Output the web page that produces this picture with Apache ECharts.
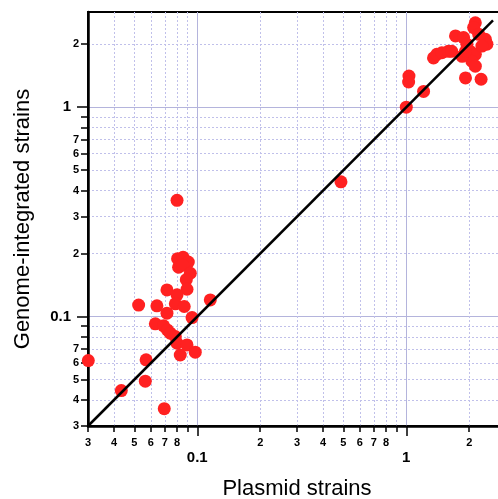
<!DOCTYPE html>
<html>
<head>
<meta charset="utf-8">
<script src="https://cdn.jsdelivr.net/npm/echarts@6/dist/echarts.min.js"></script>
<style>
html,body{margin:0;padding:0;background:#fff;}
#chart{width:498px;height:499px;}
</style>
</head>
<body>
<div id="chart"></div>
<script>
// plasmid (x) vs genome-integrated (y)
var plasmidVals = [0.080, 0.0805, 0.0855, 0.0906, 0.0814, 0.085, 0.0926, 0.0886, 0.0893, 0.0716,
	0.080, 0.0785, 0.0641, 0.0524, 0.0866, 0.0716, 0.0944, 0.1154, 0.0630, 0.0690,
	0.0719, 0.0743, 0.0785, 0.080, 0.0893, 0.0829, 0.0978, 0.0301, 0.0569, 0.0564,
	0.0433, 0.0695,
	0.487,
	1.0, 1.21, 1.03, 1.026, 1.35, 1.40, 1.48, 1.59, 1.65, 1.72,
	1.88, 1.92, 2.28, 2.14, 2.10, 2.22, 2.39, 2.43, 1.95, 2.02,
	2.14, 2.06, 2.14, 1.85, 2.30, 1.92];
var genomeVals = [0.359, 0.189, 0.192, 0.182, 0.172, 0.176, 0.161, 0.150, 0.135, 0.134,
	0.127, 0.115, 0.1125, 0.1135, 0.1117, 0.1038, 0.0989, 0.120, 0.0923, 0.0903,
	0.0863, 0.0833, 0.0802, 0.0746, 0.0732, 0.0655, 0.0676, 0.0616, 0.0621, 0.0491,
	0.0443, 0.0363,
	0.440,
	1.0, 1.19, 1.41, 1.32, 1.72, 1.79, 1.82, 1.85, 1.85, 2.19,
	2.15, 1.38, 1.36, 2.53, 2.40, 2.23, 2.11, 2.00, 2.00, 1.85,
	1.79, 1.66, 1.57, 1.75, 1.96, 1.85];

// y = x reference line ends
var diagEnds = [0.03, 2.6];

// axis ranges
var xRange = [0.03, 3];
var yRange = [0.03, 2.85];

// ticks / labels (data units)
var xMinorTicks = [0.03, 0.04, 0.05, 0.06, 0.07, 0.08, 0.09, 0.2, 0.3, 0.4, 0.5, 0.6, 0.7, 0.8, 0.9, 2];
var xMinorLabels = [0.03, 0.04, 0.05, 0.06, 0.07, 0.08, 0.2, 0.3, 0.4, 0.5, 0.6, 0.7, 0.8, 2];
var yMinorTicks = [0.03, 0.04, 0.05, 0.06, 0.07, 0.08, 0.09, 0.2, 0.3, 0.4, 0.5, 0.6, 0.7, 0.8, 0.9, 2];
var yMinorLabels = [0.03, 0.04, 0.05, 0.06, 0.07, 0.2, 0.3, 0.4, 0.5, 0.6, 0.7, 2];
var majorTicks = [0.1, 1];

var lg = function(v){ return Math.log10(v); };
var lgs = function(arr){ return arr.map(lg); };

var digitLabel = function(v){
	var d = Math.pow(10, v);
	var e = Math.floor(Math.log10(d) + 1e-9);
	return String(Math.round(d / Math.pow(10, e)));
};
var majorLabel = function(v){
	return String(+Math.pow(10, v).toPrecision(2));
};

var points = plasmidVals.map(function(x, i){ return [lg(x), lg(genomeVals[i])]; });

var FONT = 'Liberation Sans, Arial, sans-serif';
var minorGrid = {show: true, lineStyle: {color: '#c0c0ea', width: 1, type: [2, 2]}};
var majorGrid = {show: true, lineStyle: {color: '#b4b4dc', width: 1, type: 'solid'}};

var option = {
	animation: false,
	grid: {left: 88, top: 12, width: 418, height: 414, show: true, borderColor: '#000', borderWidth: 2, outerBoundsMode: 'none', containLabel: false},
	xAxis: [{
		type: 'value', position: 'bottom', min: lg(xRange[0]), max: lg(xRange[1]),
		axisLine: {show: true, onZero: false, lineStyle: {color: '#000', width: 2.5}},
		axisTick: {show: true, customValues: lgs(xMinorTicks), length: 6, lineStyle: {color: '#000', width: 1.5}},
		axisLabel: {customValues: lgs(xMinorLabels), formatter: digitLabel, margin: 11, color: '#000', fontSize: 11, fontWeight: 'bold', fontFamily: FONT},
		splitLine: minorGrid
	}, {
		type: 'value', position: 'bottom', min: lg(xRange[0]), max: lg(xRange[1]),
		axisLine: {show: false, onZero: false},
		axisTick: {show: true, customValues: lgs(majorTicks), length: 10, lineStyle: {color: '#000', width: 1.5}},
		axisLabel: {customValues: lgs(majorTicks), formatter: majorLabel, margin: 24, color: '#000', fontSize: 15, fontWeight: 'bold', fontFamily: FONT},
		splitLine: majorGrid,
		name: 'Plasmid strains', nameLocation: 'middle', nameGap: 52,
		nameTextStyle: {color: '#000', fontSize: 22, fontFamily: FONT}
	}],
	yAxis: [{
		type: 'value', position: 'left', min: lg(yRange[0]), max: lg(yRange[1]),
		axisLine: {show: true, onZero: false, lineStyle: {color: '#000', width: 2.5}},
		axisTick: {show: true, customValues: lgs(yMinorTicks), length: 7, lineStyle: {color: '#000', width: 1.5}},
		axisLabel: {customValues: lgs(yMinorLabels), formatter: digitLabel, margin: 9, color: '#000', fontSize: 11, fontWeight: 'bold', fontFamily: FONT},
		splitLine: minorGrid
	}, {
		type: 'value', position: 'left', min: lg(yRange[0]), max: lg(yRange[1]),
		axisLine: {show: false, onZero: false},
		axisTick: {show: true, customValues: lgs(majorTicks), length: 11, lineStyle: {color: '#000', width: 1.5}},
		axisLabel: {customValues: lgs(majorTicks), formatter: majorLabel, margin: 17, color: '#000', fontSize: 15, fontWeight: 'bold', fontFamily: FONT},
		splitLine: majorGrid,
		name: 'Genome-integrated strains', nameLocation: 'middle', nameGap: 54,
		nameTextStyle: {color: '#000', fontSize: 22, fontFamily: FONT}
	}],
	series: [{
		type: 'scatter', xAxisIndex: 0, yAxisIndex: 0,
		data: points, symbolSize: 13, clip: false,
		itemStyle: {color: '#ff2121', opacity: 1}
	}, {
		type: 'line', xAxisIndex: 0, yAxisIndex: 0,
		data: diagEnds.map(function(v){ return [lg(v), lg(v)]; }),
		symbol: 'none', lineStyle: {color: '#000', width: 2.5}, z: 5
	}]
};

var chart = echarts.init(document.getElementById('chart'));
chart.setOption(option);
</script>
</body>
</html>
